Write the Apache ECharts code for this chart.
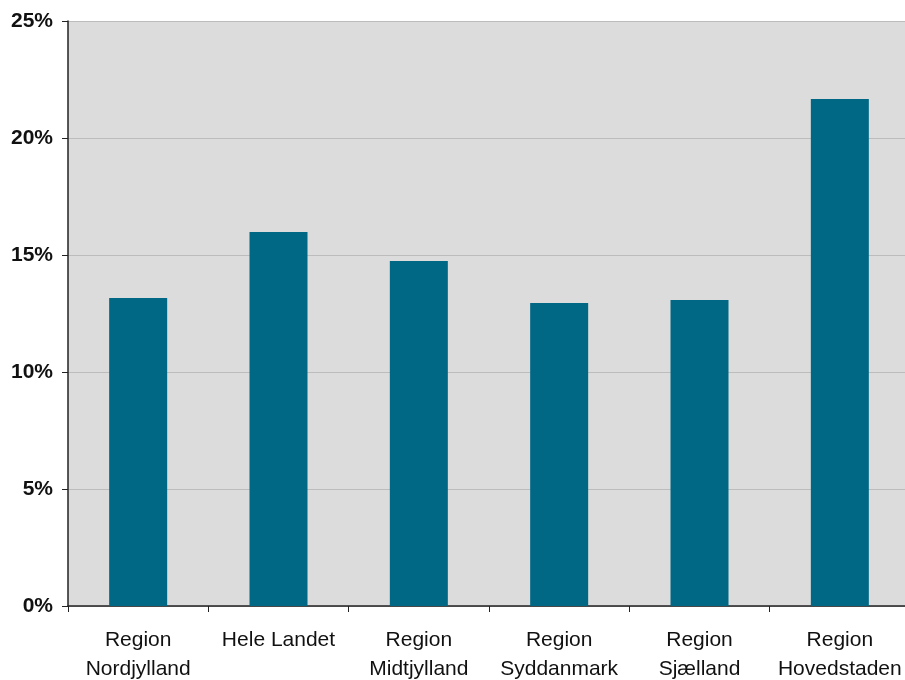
<!DOCTYPE html>
<html><head><meta charset="utf-8">
<script src="https://cdn.jsdelivr.net/npm/echarts@6/dist/echarts.min.js"></script>
<style>html,body{margin:0;padding:0;background:#fff;overflow:hidden}#c{width:910px;height:680px}</style>
</head><body><div id="c"></div>
<script>
const categories = ["Region\nNordjylland","Hele Landet","Region\nMidtjylland","Region\nSyddanmark","Region\nSjælland","Region\nHovedstaden"];
const values = [13.16, 15.98, 14.74, 12.95, 13.08, 21.67];
const yTicks = [0, 5, 10, 15, 20, 25];

const chart = echarts.init(document.getElementById('c'), null, {renderer:'canvas'});
chart.setOption({
  animation: false,
  backgroundColor: '#ffffff',
  grid: {left: 68, top: 21, right: 0, height: 585, backgroundColor: '#dcdcdc', show: true, borderWidth: 0, outerBoundsMode: 'none'},
  xAxis: {
    type: 'category', data: categories,
    axisLine: {lineStyle: {color: '#222', width: 1.5}},
    axisTick: {show: true, length: 6, lineStyle: {color: '#222'}},
    axisLabel: {color: '#111', fontFamily: 'Liberation Sans, Arial', fontSize: 21, lineHeight: 29, margin: 20, interval: 0}
  },
  yAxis: {
    type: 'value', min: 0, max: 25, interval: 5,
    axisLine: {show: true, lineStyle: {color: '#222', width: 1.5}},
    axisTick: {show: true, length: 6, lineStyle: {color: '#222'}},
    splitLine: {lineStyle: {color: '#bcbcbc', width: 1.2}},
    axisLabel: {color: '#111', fontFamily: 'Liberation Sans, Arial', fontSize: 21, fontWeight: 'bold', margin: 15,
      formatter: v => yTicks.includes(v) ? v + '%' : ''}
  },
  series: [{
    type: 'bar', data: values, barWidth: 58,
    itemStyle: {color: '#006884'}
  }]
});
</script></body></html>
